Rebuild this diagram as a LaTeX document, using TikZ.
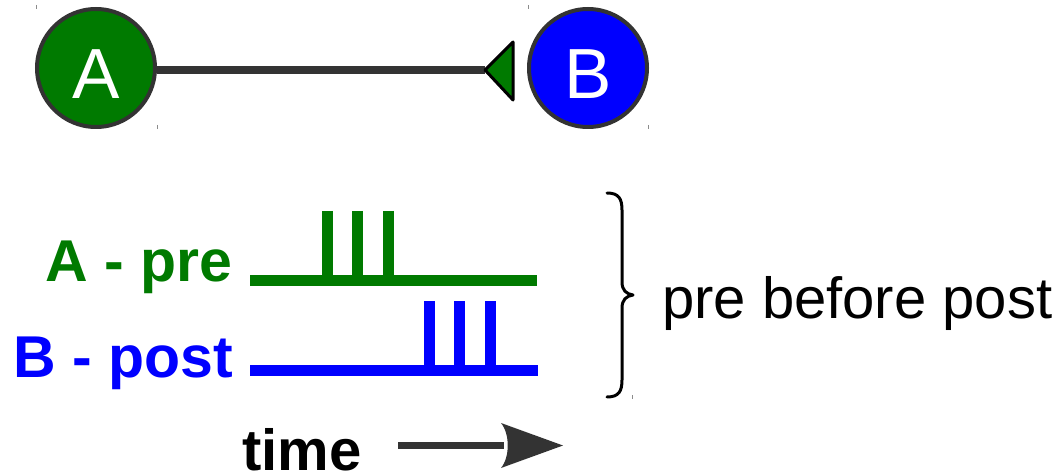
\documentclass[tikz,border=0pt]{standalone}
\usepackage{fontspec}
\setmainfont{Liberation Sans}
\definecolor{dk}{HTML}{333333}
\definecolor{grn}{RGB}{0,122,0}
\definecolor{blu}{RGB}{0,0,255}
\begin{document}
\begin{tikzpicture}[x=1pt,y=-1pt,
  circ/.style={circle, draw=dk, line width=4pt, minimum size=118pt, inner sep=0pt,
    text=white, font=\fontsize{71}{71}\selectfont, text height=62pt, text depth=0pt},
  lbl/.style={anchor=base east, inner sep=0pt, font=\bfseries\fontsize{59}{59}\selectfont},
  train/.style={line width=11pt},
  tick/.style={line width=1pt, draw=black!45},
  brace/.style={line width=3pt, line cap=round, line join=round, draw=black}]
\useasboundingbox (0,0) rectangle (1061,476);

% neurons
\node[circ, fill=grn] (A) at (96,68) {A};
\node[circ, fill=blu] (B) at (588,68) {B};
\coordinate (tipB) at (485,70);
\draw[line width=8pt, dk] (A.east |- tipB) -- (tipB);
\draw[line width=3pt, line join=round, fill=grn] (tipB) -- (513,42) -- (513,100) -- cycle;

% corner ticks
\draw[tick] (36,5) -- (36,9);
\draw[tick] (157,125) -- (157,129);
\draw[tick] (528,5) -- (528,9);
\draw[tick] (648,125) -- (648,129);
\draw[tick] (632,395) -- (632,399);

% labels
\node[lbl, text=grn] (lpre) at (233,281) {A - pre};
\node[lbl, text=blu] (lpost) at (233,377) {B - post};

% spike trains
\draw[train, grn] (250,280.5) -- (537,280.5);
\foreach \x in {327.5,357.5,388} \draw[train, grn] (\x,211) -- (\x,280);
\draw[train, blu] (250,370.5) -- (538,370.5);
\foreach \x in {429,459.5,490} \draw[train, blu] (\x,301) -- (\x,370);

% brace
\draw[brace] (607,193) .. controls (619,193) and (622,199) .. (622,210)
  -- (622,282) .. controls (622,290) and (626,294) .. (633,295)
  .. controls (626,296) and (622,300) .. (622,308)
  -- (622,380) .. controls (622,391) and (619,397) .. (607,397);
\node[anchor=base west, inner sep=0pt, font=\fontsize{58}{58}\selectfont] (res) at (662,318) {pre before post};

% time axis
\node[anchor=base west, inner sep=0pt, font=\bfseries\fontsize{58}{58}\selectfont] (time) at (242,470) {time};
\coordinate (ts) at (398,445.5);
\coordinate (te) at (504,445.5);
\draw[line width=7.5pt, dk] (ts) -- (te);
\fill[dk] (563,445.5) -- (501,423) .. controls (510,434) and (510,457) .. (501,468) -- cycle;
\end{tikzpicture}
\end{document}
